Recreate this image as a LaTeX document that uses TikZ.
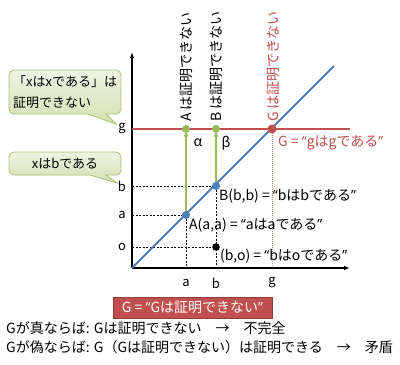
\documentclass[tikz,border=0pt]{standalone}
\usepackage{fontspec}
\setmainfont{Noto Sans CJK JP}
\newfontfamily\latfont{Open Sans}
\usetikzlibrary{arrows.meta}
\definecolor{myred}{HTML}{C0504D}
\definecolor{myblue}{HTML}{4A7EBB}
\definecolor{mygreen}{HTML}{9BBB59}
\definecolor{calltop}{HTML}{EEF4E2}
\definecolor{callbot}{HTML}{D3E2B4}
\definecolor{callline}{HTML}{A7C26F}
\newcommand{\oq}{{\latfont “}}
\newcommand{\cq}{{\latfont ”}}
\tikzset{
  axis/.style={line width=1.1pt, -{Latex[length=6pt,width=4.5pt]}},
  guide/.style={line width=0.8pt, dash pattern=on 2pt off 1.5pt},
  redline/.style={line width=2pt, myred},
  blueline/.style={line width=2pt, myblue},
  greenarrow/.style={line width=1.8pt, mygreen, -{Latex[length=5pt,width=5pt]}, shorten >=2.5pt},
  reddots/.style={line width=0.6pt, myred!70, dash pattern=on 1pt off 1pt},
  lbl/.style={inner sep=0pt},
  big/.style={font=\fontsize{14}{16}\selectfont},
  rotlbl/.style={inner sep=0pt, rotate=90, anchor=west, big},
  callout/.style={top color=calltop, bottom color=callbot, draw=callline, line width=0.8pt},
  redbox/.style={fill=myred, draw=myred!75!black, line width=0.6pt, text=white, minimum width=159pt, minimum height=21pt, inner sep=0pt, big},
}
\begin{document}
\begin{tikzpicture}[x=1pt, y=-1pt, font=\fontsize{13}{15}\selectfont]
\useasboundingbox (0,0) rectangle (400,365);
% coordinates
\coordinate (O) at (132,268);
\coordinate (Ytop) at (132,52);
\coordinate (Xend) at (350,268);
\coordinate (Gl) at (132,129);
\coordinate (Gr) at (350,129);
\coordinate (Dend) at (334,66);
\coordinate (A) at (186,215);
\coordinate (B) at (216,186);
\coordinate (BO) at (216,247);
\coordinate (Gp) at (272,129);
\coordinate (Ag) at (186,129);
\coordinate (Bg) at (216,129);
\coordinate (Ax) at (186,268);
\coordinate (Bx) at (216,268);
\coordinate (Gx) at (272,268);
\coordinate (ya) at (132,215);
\coordinate (yb) at (132,186);
\coordinate (yo) at (132,247);
% callouts
\shadedraw[callout] (14,70) -- (116,70) .. controls (118.76,70) and (121,72.24) .. (121,75) -- (121,109) .. controls (121,111.76) and (118.76,114) .. (116,114) -- (106,114) -- (116,124) -- (88,114) -- (14,114) .. controls (11.24,114) and (9,111.76) .. (9,109) -- (9,75) .. controls (9,72.24) and (11.24,70) .. (14,70) -- cycle;
\shadedraw[callout] (14,152) -- (116,152) .. controls (118.76,152) and (121,154.24) .. (121,157) -- (121,170) .. controls (121,172.76) and (118.76,175) .. (116,175) -- (106,175) -- (117,183) -- (90,175) -- (14,175) .. controls (11.24,175) and (9,172.76) .. (9,170) -- (9,157) .. controls (9,154.24) and (11.24,152) .. (14,152) -- cycle;
\node[lbl, anchor=west] (c1a) at (13,82) {「xはxである」は};
\node[lbl, anchor=west] (c1b) at (13,103) {証明できない};
\node[lbl] (c2) at (65,164) {xはbである};
% guides
\draw[guide] (yb) -- (B);
\draw[guide] (ya) -- (A);
\draw[guide] (yo) -- (BO);
\draw[guide] (A) -- (Ax);
\draw[guide] (B) -- (Bx);
\draw[reddots] (Gp) -- (Gx);
% axes
\draw[axis] (O) -- (Ytop);
\draw[axis] (O) -- (Xend);
% main lines
\draw[redline] (Gl) -- (Gr);
\draw[blueline] (O) -- (Dend);
\draw[greenarrow] (A) -- (Ag);
\draw[greenarrow] (B) -- (Bg);
% dots
\fill[myblue] (A) circle (4);
\fill[myblue] (B) circle (4);
\fill[mygreen] (Ag) circle (4);
\fill[mygreen] (Bg) circle (4);
\fill[myred] (Gp) circle (4.5);
\fill[black] (BO) circle (3.8);
% axis labels
\node[lbl] (lg) at (122,129) {g};
\node[lbl] (lb) at (122,186) {b};
\node[lbl] (la) at (122,215) {a};
\node[lbl] (lo) at (122,247) {o};
\node[lbl] (xa) at (186,283) {a};
\node[lbl] (xb) at (216,283) {b};
\node[lbl] (xg) at (272,283) {g};
% rotated labels
\node[rotlbl] (rA) at (186,122) {A は証明できない};
\node[rotlbl] (rB) at (216,122) {B は証明できない};
\node[rotlbl, text=myred] (rG) at (273,122) {G は証明できない};
\node[lbl, big] (alpha) at (198,143) {α};
\node[lbl, big] (beta) at (226,143) {β};
% point labels
\node[lbl, anchor=west, text=myred, big] (tG) at (278,143) {G = \oq gはgである\cq};
\node[lbl, anchor=west, big] (tB) at (219,196) {B(b,b) = \oq bはbである\cq};
\node[lbl, anchor=west, big] (tA) at (189,225) {A(a,a) = \oq aはaである\cq};
\node[lbl, anchor=west, big] (tBO) at (220,256) {(b,o) = \oq bはoである\cq};
% bottom
\node[redbox] (gbox) at (192.5,307.5) {G = \oq Gは証明できない\cq};
\node[lbl, anchor=west, big] (l1) at (6,328) {Gが真ならば: Gは証明できない　→　不完全};
\node[lbl, anchor=west, big] (l2) at (6,347) {Gが偽ならば: G（Gは証明できない）は証明できる　→　矛盾};
\end{tikzpicture}
\end{document}
